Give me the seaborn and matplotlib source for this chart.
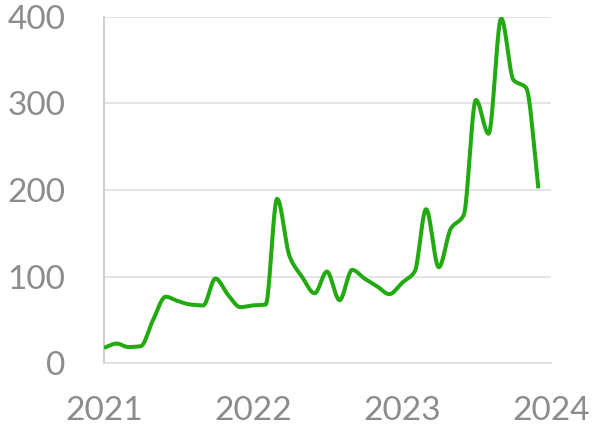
import numpy as np
import pandas as pd
import matplotlib
matplotlib.use("Agg")
import matplotlib.pyplot as plt
import seaborn as sns

# monthly values, Jan 2021 .. Dec 2023
months = pd.date_range("2021-01-01", periods=36, freq="MS")
values = [18, 23, 19, 20, 50, 77, 72, 68, 67, 98, 79, 65,
          67, 68, 190, 123, 100, 81, 106, 73, 108, 98, 89, 80,
          93, 106, 178, 111, 156, 171, 304, 265, 398, 327, 318, 202]
year_ticks = [2021, 2022, 2023, 2024]
y_ticks = [0, 100, 200, 300, 400]

LINE = "#22aa11"
TEXT = "#8c8c8c"
GRID = "#dddddd"


def frac_year(d):
    days = 366 if d.is_leap_year else 365
    return d.year + (d.dayofyear - 1) / days


def monotone_curve(x, y, n=20):
    """Fritsch-Carlson monotone cubic, only for drawing a smooth line"""
    x = np.asarray(x, float)
    y = np.asarray(y, float)
    h = np.diff(x)
    s = np.diff(y) / h
    m = np.zeros_like(y)
    m[0], m[-1] = s[0], s[-1]
    for k in range(1, len(y) - 1):
        if s[k - 1] * s[k] <= 0:
            m[k] = 0
        else:
            w1 = 2 * h[k] + h[k - 1]
            w2 = h[k] + 2 * h[k - 1]
            m[k] = (w1 + w2) / (w1 / s[k - 1] + w2 / s[k])
    xs, ys = [], []
    for k in range(len(h)):
        t = np.linspace(0, 1, n, endpoint=False)
        h00 = 2 * t**3 - 3 * t**2 + 1
        h10 = t**3 - 2 * t**2 + t
        h01 = -2 * t**3 + 3 * t**2
        h11 = t**3 - t**2
        xs.append(x[k] + t * h[k])
        ys.append(h00 * y[k] + h10 * h[k] * m[k] + h01 * y[k + 1] + h11 * h[k] * m[k + 1])
    xs.append([x[-1]])
    ys.append([y[-1]])
    return np.concatenate(xs), np.concatenate(ys)


x_num = [frac_year(d) for d in months]
sx, sy = monotone_curve(x_num, values)
df = pd.DataFrame({"t": sx, "v": sy})

sns.set_style("white")
plt.rcParams["font.family"] = ["Lato", "DejaVu Sans"]

fig = plt.figure(figsize=(5.95, 4.29), dpi=100)
ax = fig.add_axes([0.1748, 0.1527, 0.9261 - 0.1748, 0.961 - 0.1527])

sns.lineplot(data=df, x="t", y="v", ax=ax, color=LINE, linewidth=2.9,
             solid_capstyle="butt", zorder=3)

ax.set_xlim(2021, 2024)
ax.set_ylim(0, 400)
ax.set_xticks(year_ticks)
ax.set_xticklabels([str(y) for y in year_ticks])
ax.set_yticks(y_ticks)
ax.set_yticklabels([str(v) for v in y_ticks])
ax.set_xlabel("")
ax.set_ylabel("")

ax.grid(axis="y", color=GRID, linewidth=1.1)
ax.grid(axis="x", visible=False)
for side in ["top", "right"]:
    ax.spines[side].set_visible(False)
ax.spines["left"].set_color("#cccccc")
ax.spines["left"].set_linewidth(1.3)
ax.spines["bottom"].set_color(GRID)
ax.spines["bottom"].set_linewidth(1.1)

ax.tick_params(axis="x", length=8.6, width=1.1, color=GRID, pad=15,
               labelsize=24, labelcolor=TEXT)
ax.tick_params(axis="y", length=8.6, width=1.1, color=GRID, pad=19,
               labelsize=24, labelcolor=TEXT)

fig.savefig("out.png", dpi=100)
